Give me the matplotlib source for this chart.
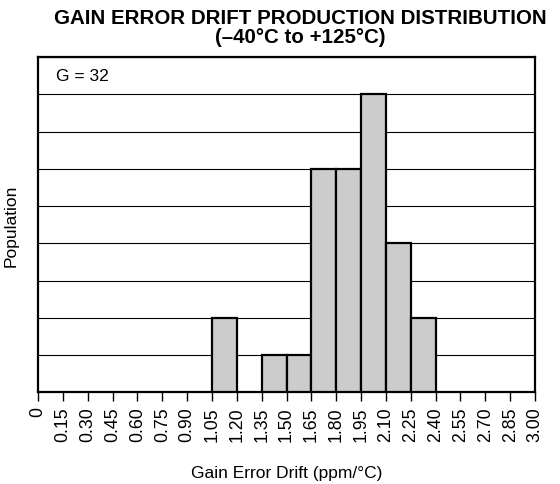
import numpy as np
import matplotlib
matplotlib.use("Agg")
import matplotlib.pyplot as plt

plt.rcParams['font.family'] = ['Liberation Sans', 'DejaVu Sans']

# Histogram bin edges (ppm/°C) and counts per bin
bin_edges = [0, 0.15, 0.30, 0.45, 0.60, 0.75, 0.90, 1.05, 1.20, 1.35, 1.50,
             1.65, 1.80, 1.95, 2.10, 2.25, 2.40, 2.55, 2.70, 2.85, 3.00]
counts = [0, 0, 0, 0, 0, 0, 0, 2, 0, 1, 1, 6, 6, 8, 4, 2, 0, 0, 0, 0]
tick_labels = ["0", "0.15", "0.30", "0.45", "0.60", "0.75", "0.90", "1.05",
               "1.20", "1.35", "1.50", "1.65", "1.80", "1.95", "2.10", "2.25",
               "2.40", "2.55", "2.70", "2.85", "3.00"]

fig = plt.figure(figsize=(5.6, 4.85), dpi=100)
ax = fig.add_axes([0.0679, 0.1887, 0.8875, 0.6918])

lefts = np.array(bin_edges[:-1])
widths = np.diff(bin_edges)
mask = np.array(counts) > 0
ax.bar(lefts[mask], np.array(counts)[mask], width=widths[mask], align='edge',
       color='#cccccc', edgecolor='black', linewidth=1.6, zorder=3)

ax.set_xlim(0, 3.0)
ax.set_ylim(0, 9)
ax.set_yticks(np.arange(0, 10))
ax.yaxis.grid(True, color='black', linewidth=0.8, zorder=0)
ax.tick_params(axis='y', length=0, labelleft=False)
ax.set_xticks(bin_edges)
ax.set_xticklabels(tick_labels, rotation=90, fontsize=12.8)
ax.tick_params(axis='x', direction='out', length=6.5, width=1, pad=3.5)
for s in ax.spines.values():
    s.set_linewidth(1.6)

ax.text(0.109, 8.49, "G = 32", fontsize=12.5, va='center', ha='left')
ax.set_ylabel("Population", fontsize=12.5, labelpad=14)
ax.set_xlabel("Gain Error Drift (ppm/°C)", fontsize=12.5, labelpad=17)
fig.text(0.536, 0.9806, "GAIN ERROR DRIFT PRODUCTION DISTRIBUTION\n(–40°C to +125°C)",
         ha='center', va='top', fontsize=14.8, fontweight='bold', linespacing=0.98)

fig.savefig("out.png", dpi=100)
